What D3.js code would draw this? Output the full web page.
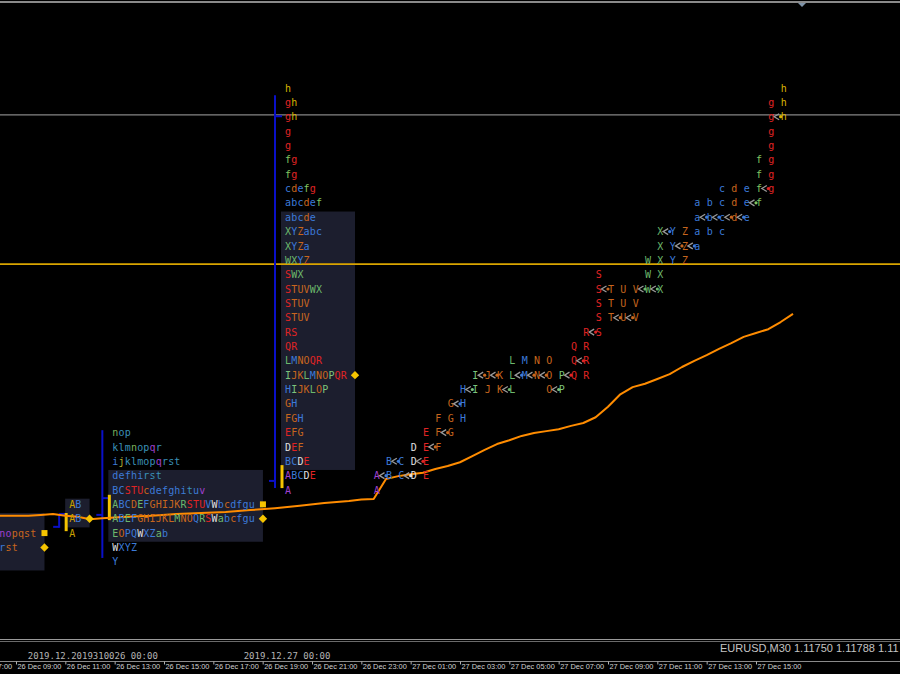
<!DOCTYPE html>
<html><head><meta charset="utf-8">
<script src="https://cdn.jsdelivr.net/npm/d3@7"></script>
<style>html,body{margin:0;padding:0;background:#000;overflow:hidden}svg{display:block}</style>
</head><body><svg id="c" width="900" height="674"></svg>
<script>
// ---------------- DATA ----------------
const priceLevels = [1.11880,1.11850,1.11820,1.11790,1.11760,1.11730,1.11700,1.11670,1.11640,1.11610,
  1.11580,1.11550,1.11520,1.11490,1.11460,1.11430,1.11400,1.11370,1.11340,1.11310,
  1.11280,1.11250,1.11220,1.11190,1.11160,1.11130,1.11100,1.11070,1.11040,1.11010,
  1.10980,1.10950,1.10920,1.10890];

// profiles: farLeft, ab, left (26 Dec), main (27 Dec collapsed)
const profileRows = [
  ["nopqst","rst"],
  ["AB","AB","A"],
  ["nop","klmnopqr","ijklmopqrst","defhirst","BCSTUcdefghituv","ABCDEFGHIJKRSTUVWbcdfgu","ABEFGHIJKLMNOQRSWabcfgu","EOPQWXZab","WXYZ","Y"],
  ["h","gh","gh","g","g","fg","fg","cdefg","abcdef","abcde","XYZabc","XYZa","WXYZ","SWX","STUVWX","STUV","STUV","RS","QR","LMNOQR","IJKLMNOPQR","HIJKLOP","GH","FGH","EFG","DEF","BCDE","ABCDE","A"]
];
const profileTopLevel = [31, 29, 24, 0];
const profileStart = ["2019-12-26 07:55","2019-12-26 10:45","2019-12-26 12:30","2019-12-26 19:30"];
const profileHigh  = [null, 1.10990, 1.11165, 1.11865];
const profileLow   = [null, 1.10961, 1.10898, 1.11044];
const profileOpen  = [null, 1.10963, 1.10988, 1.11059];
const profileClose = [null, 1.10990, 1.11023, 1.11821];
const ibHigh = [null, 1.10992, 1.11030, 1.11092];
const ibLow  = [null, 1.10954, 1.10977, 1.11044];
const vaHigh = [1.10980, 1.11010, 1.11070, 1.11610];
const vaLow  = [1.10890, 1.10980, 1.10950, 1.11100];
const pocPrice = [1.10920, 1.10980, 1.10980, 1.11280];
const squarePrice = [1.10950, null, 1.11010, null];

// split (time-column) view of 27 Dec, "<" = arrow before next letter
const splitStart = "2019-12-26 23:30";
const splitRows = ["h","gh","g<h","g","g","fg","fg","cdef<g","abcde<f","a<b<c<d<e","X<YZabc","XY<Z<a","WXYZ","SWX",
  "S<TUV<W<X","STUV","ST<U<V","R<S","QR","LMNOQ<R","I<J<KL<M<N<OP<QR","H<IJK<LO<P","G<H","FGH","EF<G","DE<F","B<CD<E","A<BC<DE","A"];

// orange line
const lineTimes = ["2019-12-26 07:30","2019-12-26 09:30","2019-12-26 10:00","2019-12-26 10:30","2019-12-26 11:00","2019-12-26 11:30",
 "2019-12-26 12:00","2019-12-26 12:30","2019-12-26 13:30","2019-12-26 14:30","2019-12-26 15:30","2019-12-26 16:30","2019-12-26 17:30",
 "2019-12-26 18:30","2019-12-26 19:30","2019-12-26 20:30","2019-12-26 21:30","2019-12-26 22:30","2019-12-26 23:00","2019-12-26 23:30",
 "2019-12-27 00:00","2019-12-27 00:30","2019-12-27 01:00","2019-12-27 01:30","2019-12-27 02:00","2019-12-27 02:30","2019-12-27 03:00",
 "2019-12-27 03:30","2019-12-27 04:00","2019-12-27 04:30","2019-12-27 05:00","2019-12-27 05:30","2019-12-27 06:00","2019-12-27 06:30",
 "2019-12-27 07:00","2019-12-27 07:30","2019-12-27 08:00","2019-12-27 08:30","2019-12-27 09:00","2019-12-27 09:30","2019-12-27 10:00",
 "2019-12-27 10:30","2019-12-27 11:00","2019-12-27 11:30","2019-12-27 12:00","2019-12-27 12:30","2019-12-27 13:00","2019-12-27 13:30",
 "2019-12-27 14:00","2019-12-27 14:30","2019-12-27 15:00","2019-12-27 15:30","2019-12-27 16:00","2019-12-27 16:30"];
const lineValues = [1.10986,1.10986,1.10988,1.10990,1.10986,1.10984,
 1.10979,1.10981,1.10984,1.10986,1.10990,1.10992,1.10994,
 1.10998,1.11002,1.11007,1.11013,1.11017,1.11020,1.11021,
 1.11063,1.11069,1.11073,1.11076,1.11084,1.11090,1.11098,
 1.11111,1.11124,1.11136,1.11144,1.11153,1.11159,1.11163,
 1.11167,1.11174,1.11180,1.11192,1.11214,1.11240,1.11255,
 1.11262,1.11272,1.11282,1.11297,1.11310,1.11322,1.11335,
 1.11347,1.11360,1.11368,1.11376,1.11391,1.11408];

const grayLevel = 1.11824;
const goldLevel = 1.11512;

const tickTimes = ["2019-12-26 07:00","2019-12-26 09:00","2019-12-26 11:00","2019-12-26 13:00","2019-12-26 15:00","2019-12-26 17:00",
 "2019-12-26 19:00","2019-12-26 21:00","2019-12-26 23:00","2019-12-27 01:00","2019-12-27 03:00","2019-12-27 05:00",
 "2019-12-27 07:00","2019-12-27 09:00","2019-12-27 11:00","2019-12-27 13:00","2019-12-27 15:00"];
const separatorLabels = ["2019.12.2019310026 00:00","2019.12.27 00:00"];
const separatorTimes = ["2019-12-26 09:30","2019-12-26 18:15"];
const symbolLabel = "EURUSD,M30 1.11750 1.11788 1.11";

// ---------------- STYLE ----------------
const BLUE="#3c7ad8", RED="#e02424", BROWN="#c8661e", GREEN="#6cb86c", LGREEN="#7cc47c", PURPLE="#a040d0", WHITE="#e0e0e0", TEAL="#3a90b8";
const pal27 = {A:PURPLE,B:BLUE,C:BLUE,D:WHITE,E:RED,F:BROWN,G:BROWN,H:BLUE,I:LGREEN,J:BROWN,K:BROWN,L:GREEN,M:BLUE,N:BROWN,O:BROWN,
  P:LGREEN,Q:RED,R:RED,S:RED,T:BROWN,U:BROWN,V:BROWN,W:GREEN,X:GREEN,Y:BLUE,Z:BROWN,a:BLUE,b:BLUE,c:BLUE,d:BROWN,e:BLUE,f:"#80c460",g:RED,h:"#d8b400"};
const pal26 = {A:GREEN,B:BLUE,C:BLUE,D:BROWN,E:GREEN,F:BLUE,G:BROWN,H:BROWN,I:BROWN,J:BROWN,K:BROWN,L:BROWN,M:GREEN,N:BROWN,O:BROWN,
  P:BLUE,Q:BLUE,R:GREEN,S:RED,T:RED,U:RED,V:BLUE,W:WHITE,X:BLUE,Y:BLUE,Z:BLUE,a:GREEN,b:BLUE,c:BROWN,d:BLUE,e:BLUE,f:BLUE,g:BLUE,h:BLUE,
  i:BLUE,j:"#b0b030",k:TEAL,l:TEAL,m:TEAL,n:"#7cb05c",o:TEAL,p:TEAL,q:PURPLE,r:TEAL,s:TEAL,t:TEAL,u:BLUE,v:PURPLE};
const palAB = {A:"#c8a000",B:BLUE};
const palFar = {n:PURPLE,o:PURPLE,p:BROWN,q:BROWN,r:BLUE,s:BROWN,t:BROWN};
const palettes = [palFar, palAB, pal26, pal27];
const CHAR_W = 6.2, LETTER_OFF = 10, FONT = "DejaVu Sans Mono";
const YEL = "#f5c400";

// ---------------- DRAW ----------------
const parse = d3.timeParse("%Y-%m-%d %H:%M");
const svg = d3.select("#c");
const W = 900, H = 674;
svg.append("rect").attr("width",W).attr("height",H).attr("fill","#000");

const x = d3.scaleTime().domain([parse("2019-12-26 09:00"), parse("2019-12-27 15:00")]).range([16, 756]);
const y = d3.scaleLinear().domain([priceLevels[0], priceLevels[28]]).range([88, 490]);
const rowH = y(priceLevels[1]) - y(priceLevels[0]);

const plot = svg.append("g");

// value area boxes
profileRows.forEach((rows, p) => {
  const lx = x(parse(profileStart[p])) + LETTER_OFF;
  const maxLen = d3.max(rows, r => r.length);
  const top = y(vaHigh[p]) - rowH/2 + 1.5, bot = y(vaLow[p]) + rowH/2 + 1.5;
  plot.append("rect").attr("x", lx - 4).attr("y", top).attr("width", maxLen*CHAR_W + 12).attr("height", bot - top).attr("fill", "#1c1e2e");
});

// horizontal level lines
plot.append("line").attr("x1",0).attr("x2",W).attr("y1",y(grayLevel)).attr("y2",y(grayLevel)).attr("stroke","#858585").attr("stroke-width",1.2);
plot.append("line").attr("x1",0).attr("x2",W).attr("y1",y(goldLevel)).attr("y2",y(goldLevel)).attr("stroke","#d9a400").attr("stroke-width",1.8);

// session range lines, open/close ticks, IB bars
profileRows.forEach((rows, p) => {
  if (profileHigh[p] === null) return;
  const bx = x(parse(profileStart[p]));
  plot.append("line").attr("x1",bx).attr("x2",bx).attr("y1",y(profileHigh[p])).attr("y2",y(profileLow[p])).attr("stroke","#0a10c8").attr("stroke-width",2);
  plot.append("line").attr("x1",bx-6).attr("x2",bx).attr("y1",y(profileOpen[p])).attr("y2",y(profileOpen[p])).attr("stroke","#0a10c8").attr("stroke-width",2);
  plot.append("line").attr("x1",bx).attr("x2",bx+7).attr("y1",y(profileClose[p])).attr("y2",y(profileClose[p])).attr("stroke","#0a10c8").attr("stroke-width",2);
  plot.append("line").attr("x1",bx+7).attr("x2",bx+7).attr("y1",y(ibHigh[p])).attr("y2",y(ibLow[p])).attr("stroke",YEL).attr("stroke-width",3);
});

// orange line
const lineData = lineTimes.map((t,i) => ({t: parse(t), v: lineValues[i]}));
plot.append("path").datum(lineData).attr("fill","none").attr("stroke","#ff8c00").attr("stroke-width",2)
  .attr("stroke-linejoin","round")
  .attr("d", d3.line().x(d => x(d.t)).y(d => y(d.v)));

// profile letters
const txt = svg.append("g").attr("font-family", FONT).attr("font-size", "10px");
profileRows.forEach((rows, p) => {
  const lx = x(parse(profileStart[p])) + LETTER_OFF;
  const pal = palettes[p];
  rows.forEach((r, i) => {
    const ry = y(priceLevels[profileTopLevel[p] + i]);
    r.split("").forEach((ch, j) => {
      txt.append("text").attr("x", lx + j*CHAR_W).attr("y", ry + 3.6).attr("fill", pal[ch] || BLUE).text(ch);
    });
  });
  // markers
  const maxLen = d3.max(rows, r => r.length);
  const mx = lx + maxLen*CHAR_W + 8;
  const py = y(pocPrice[p]);
  svg.append("path").attr("d", `M${mx},${py-4.2}L${mx+4.2},${py}L${mx},${py+4.2}L${mx-4.2},${py}Z`).attr("fill", YEL);
  if (squarePrice[p] !== null) {
    const sy = y(squarePrice[p]);
    svg.append("rect").attr("x", mx-3).attr("y", sy-3).attr("width",6).attr("height",6).attr("fill", YEL);
  }
});

// split view
const s0 = parse(splitStart);
const letterIndex = ch => ch >= "a" ? ch.charCodeAt(0) - 97 + 26 : ch.charCodeAt(0) - 65;
splitRows.forEach((r, i) => {
  const ry = y(priceLevels[i]);
  let arrow = false;
  for (const ch of r) {
    if (ch === "<") { arrow = true; continue; }
    const lx = x(d3.timeMinute.offset(s0, 30*letterIndex(ch)));
    const col = pal27[ch];
    txt.append("text").attr("x", lx).attr("y", ry + 3.6).attr("fill", col).text(ch);
    if (arrow) {
      svg.append("path").attr("d", `M${lx-1.5},${ry-3}L${lx-6.5},${ry}L${lx-1.5},${ry+3}`)
        .attr("fill","none").attr("stroke","#9a9a9a").attr("stroke-width",1.3);
      svg.append("circle").attr("cx", lx).attr("cy", ry).attr("r", 1.6).attr("fill", col);
    }
    arrow = false;
  }
});

// top frame
svg.append("rect").attr("x",0).attr("y",1).attr("width",W).attr("height",2).attr("fill","#8a8a8a");
svg.append("path").attr("d","M798,3L806,3L802,7Z").attr("fill","#7f93a8");

// bottom frame
svg.append("line").attr("x1",0).attr("x2",W).attr("y1",639.5).attr("y2",639.5).attr("stroke","#9a9a9a");
svg.append("line").attr("x1",0).attr("x2",W).attr("y1",641.5).attr("y2",641.5).attr("stroke","#6a6a6a");
svg.append("text").attr("x",720).attr("y",652).attr("font-family","Liberation Sans, Arial").attr("font-size","11px").attr("fill","#c4c4c4").text(symbolLabel);

separatorLabels.forEach((s,i) => {
  svg.append("text").attr("x", x(parse(separatorTimes[i])) - 0.5).attr("y", 658.5).attr("font-family", FONT).attr("font-size","9px").attr("fill","#b4b4b4").text(s);
});

// time axis
svg.append("line").attr("x1",0).attr("x2",W).attr("y1",661.5).attr("y2",661.5).attr("stroke","#8a8a8a");
const axis = d3.axisBottom(x).tickValues(tickTimes.map(parse)).tickFormat(d3.timeFormat("%d %b %H:%M")).tickSize(3).tickSizeOuter(0);
const ag = svg.append("g").attr("transform","translate(0,661.5)").call(axis);
ag.select(".domain").remove();
ag.selectAll(".tick line").attr("stroke","#b0b0b0");
ag.selectAll(".tick text").attr("text-anchor","start").attr("x",1).attr("y",2).attr("dy","0.71em")
  .attr("fill","#d0d0d0").attr("font-family","Liberation Sans, Arial").attr("font-size","7.4px");
</script>
</body></html>
